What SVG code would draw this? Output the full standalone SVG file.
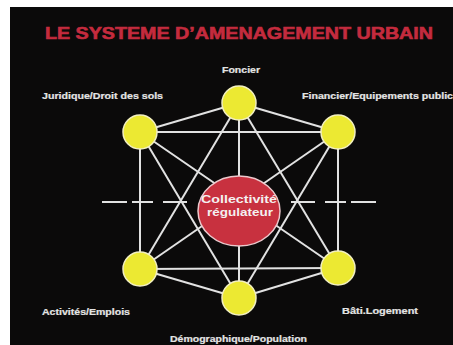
<svg xmlns="http://www.w3.org/2000/svg" width="453" height="345" viewBox="0 0 453 345">
<style>
.bg{fill:#0b0a0a}
.title{font-family:"Liberation Sans",Arial,sans-serif;font-weight:bold;font-size:16px;fill:#c42b3e;stroke:#c42b3e;stroke-width:0.6}
.lbl{font-family:"Liberation Sans",Arial,sans-serif;font-weight:bold;font-size:8.5px;fill:#e4e4e4;stroke:#e4e4e4;stroke-width:0.2}
.ctr{font-family:"Liberation Sans",Arial,sans-serif;font-weight:bold;font-size:11.5px;fill:#f4f0f0;text-anchor:middle}
.edge{stroke:#e2e2e2;stroke-width:2;fill:none}
.dash{stroke:#e2e2e2;stroke-width:2}
.node{fill:#ece932;stroke:#f2efc0;stroke-width:1.5}
.hub{fill:#c8313f;stroke:#ecc8cc;stroke-width:1.5}
</style>
<rect x="0" y="0" width="453" height="345" fill="#ffffff"/>
<rect class="bg" x="10" y="7" width="443" height="338"/>
<text class="title" x="45" y="39" textLength="388" lengthAdjust="spacingAndGlyphs">LE SYSTEME D’AMENAGEMENT URBAIN</text>
<g id="dashes">
<line class="dash" x1="102" y1="202" x2="127" y2="202"/>
<line class="dash" x1="132" y1="202" x2="153" y2="202"/>
<line class="dash" x1="163" y1="202" x2="187" y2="202"/>
<line class="dash" x1="291" y1="202" x2="315" y2="202"/>
<line class="dash" x1="325" y1="202" x2="346" y2="202"/>
<line class="dash" x1="351" y1="202" x2="376" y2="202"/>
</g>
<g id="connectors">
<line class="edge" x1="239" y1="103" x2="140" y2="132"/>
<line class="edge" x1="239" y1="103" x2="338" y2="132"/>
<line class="edge" x1="239" y1="103" x2="140" y2="269"/>
<line class="edge" x1="239" y1="103" x2="338" y2="268"/>
<line class="edge" x1="239" y1="103" x2="239" y2="298"/>
<line class="edge" x1="140" y1="132" x2="338" y2="132"/>
<line class="edge" x1="140" y1="132" x2="140" y2="269"/>
<line class="edge" x1="140" y1="132" x2="338" y2="268"/>
<line class="edge" x1="140" y1="132" x2="239" y2="298"/>
<line class="edge" x1="338" y1="132" x2="338" y2="268"/>
<line class="edge" x1="338" y1="132" x2="140" y2="269"/>
<line class="edge" x1="338" y1="132" x2="239" y2="298"/>
<line class="edge" x1="140" y1="269" x2="338" y2="268"/>
<line class="edge" x1="140" y1="269" x2="239" y2="298"/>
<line class="edge" x1="338" y1="268" x2="239" y2="298"/>
</g>
<g id="hub">
<ellipse class="hub" cx="239" cy="211" rx="41" ry="35"/>
<text class="ctr" x="239" y="203" textLength="76" lengthAdjust="spacingAndGlyphs">Collectivité</text>
<text class="ctr" x="240" y="216" textLength="66" lengthAdjust="spacingAndGlyphs">régulateur</text>
</g>
<g id="foncier">
<circle class="node" cx="239" cy="103" r="17"/>
<text class="lbl" x="222" y="73" textLength="38" lengthAdjust="spacingAndGlyphs">Foncier</text>
</g>
<g id="juridique">
<circle class="node" cx="140" cy="132" r="17"/>
<text class="lbl" x="42" y="99" textLength="121" lengthAdjust="spacingAndGlyphs">Juridique/Droit des sols</text>
</g>
<g id="financier">
<circle class="node" cx="338" cy="132" r="17"/>
<text class="lbl" x="302" y="99" textLength="151" lengthAdjust="spacingAndGlyphs">Financier/Equipements public</text>
</g>
<g id="activites">
<circle class="node" cx="140" cy="269" r="17"/>
<text class="lbl" x="42" y="315" textLength="88" lengthAdjust="spacingAndGlyphs">Activités/Emplois</text>
</g>
<g id="bati">
<circle class="node" cx="338" cy="268" r="17"/>
<text class="lbl" x="342" y="314" textLength="76" lengthAdjust="spacingAndGlyphs">Bâti.Logement</text>
</g>
<g id="demographique">
<circle class="node" cx="239" cy="298" r="17"/>
<text class="lbl" x="170" y="342" textLength="137" lengthAdjust="spacingAndGlyphs">Démographique/Population</text>
</g>
</svg>
